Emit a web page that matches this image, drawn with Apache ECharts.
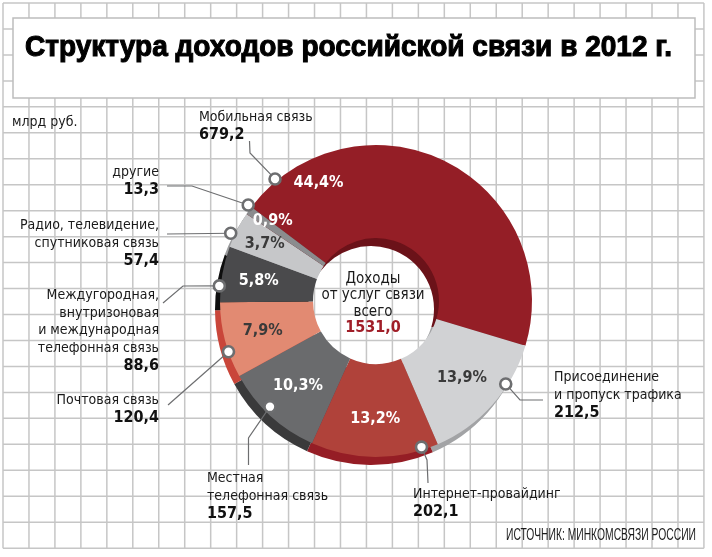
<!DOCTYPE html>
<html>
<head>
<meta charset="utf-8">
<title>Структура доходов российской связи в 2012 г.</title>
<script src="https://cdn.jsdelivr.net/npm/echarts@6/dist/echarts.min.js"></script>
<style>
    html, body { margin: 0; padding: 0; background: #fff; }
    #chart { width: 712px; height: 557px; }
</style>
</head>
<body>
<div id="chart"></div>
<script>
// данные: млрд руб., 2012 г.
var categories = [
    'Мобильная связь',
    'Присоединение\nи пропуск трафика',
    'Интернет-провайдинг',
    'Местная\nтелефонная связь',
    'Почтовая связь',
    'Междугородная,\nвнутризоновая\nи международная\nтелефонная связь',
    'Радио, телевидение,\nспутниковая связь',
    'другие'
];
var values = [679.2, 212.5, 202.1, 157.5, 120.4, 88.6, 57.4, 13.3];
var unitLabel = 'млрд руб.';
var titleText = 'Структура доходов российской связи в 2012 г.';
var centerLines = ['Доходы', 'от услуг связи', 'всего'];
var sourceText = 'ИСТОЧНИК: МИНКОМСВЯЗИ РОССИИ';

(function () {
    var myChart = echarts.init(document.getElementById('chart'));

    var COND = '"DejaVu Sans Condensed", "DejaVu Sans", sans-serif';
    var SANS = '"Liberation Sans", Arial, sans-serif';

    // ширина текста, чтобы "сжать" заголовок и источник до нужной ширины
    var ctx = document.createElement('canvas').getContext('2d');
    function textWidth(t, font) { ctx.font = font; return ctx.measureText(t).width; }

    // центр и радиусы кольца
    var CX = 376, CY = 301, R0 = 63, R1 = 156;
    var START = 143;

    var mainColors = ['#941e26', '#d1d2d4', '#b0423a', '#6a6b6d', '#e28a72', '#4a4a4c', '#c6c7c9', '#8b8c8e'];
    var wallColors = ['#6b1219', '#a2a3a5', '#951d25', '#3a3a3b', '#c9463a', '#0e0e0e', '#9c9d9f', '#5e5f61'];
    var pctColors = ['#fff', '#3a3a3a', '#fff', '#fff', '#3a3a3a', '#fff', '#3a3a3a', '#fff'];

    var total = values.reduce(function (s, v) { return s + v; }, 0);
    function fmt(v) { return v.toFixed(1).replace('.', ','); }

    // средние углы секторов
    var midAngles = [];
    var cum = 0;
    values.forEach(function (v) {
        midAngles.push(START - 360 * (cum + v / 2) / total);
        cum += v;
    });

    function polar(a, r) {
        var t = a * Math.PI / 180;
        return [CX + r * Math.cos(t), CY - r * Math.sin(t)];
    }

    // положение процентов (угол переопределён у мобильной связи и "других")
    var pctAngle = midAngles.slice();
    pctAngle[0] = 116;
    pctAngle[7] = 142;
    var pctRadius = [131, 115, 118, 115, 117, 119, 125, 131];

    // выноски: точка на кольце, ломаная, блок подписи
    var notes = [
        { dot: [129.6, 158.4], path: [[250, 153], [249.5, 141]], text: [199, 109, 'left'] },
        { dot: [-32.6, 154], path: [[520, 400], [543, 400]], text: [554, 369, 'left'] },
        { dot: [-72.7, 153], path: [[427, 460], [428, 483]], text: [413, 486, 'left'] },
        { dot: [224.9, 149.7], path: [[248.5, 438], [248.5, 465]], text: [207, 470, 'left'] },
        { dot: [199, 156], path: [[168, 405]], text: [159, 392, 'right'] },
        { dot: [174.5, 157.4], path: [[183, 286], [163, 303]], text: [159, 287, 'right'] },
        { dot: [155, 160.3], path: [[167, 234]], text: [159, 217, 'right'] },
        { dot: [143.1, 159.8], path: [[192, 186], [167, 186]], text: [159, 164, 'right'] }
    ];

    var elements = [];

    // клетчатый фон
    var step = 25.96;
    for (var i = 0; i <= 27; i++) {
        var gx = 3 + i * step;
        elements.push({ type: 'line', z: 0, silent: true,
            shape: { x1: gx, y1: 3, x2: gx, y2: 3 + 21 * step },
            style: { stroke: '#c6c6c6', lineWidth: 1.5 } });
    }
    for (var j = 0; j <= 21; j++) {
        var gy = 3 + j * step;
        elements.push({ type: 'line', z: 0, silent: true,
            shape: { x1: 3, y1: gy, x2: 3 + 27 * step, y2: gy },
            style: { stroke: '#c6c6c6', lineWidth: 1.5 } });
    }

    // плашка заголовка
    elements.push({ type: 'rect', z: 1, silent: true,
        shape: { x: 13, y: 18, width: 682, height: 80 },
        style: { fill: '#fff', stroke: '#bdbdbd', lineWidth: 1.5 } });
    var titleFont = 'bold 30px ' + SANS;
    elements.push({ type: 'text', z: 2, x: 25, y: 48,
        scaleX: 647 / textWidth(titleText, titleFont),
        style: { text: titleText, font: titleFont, fill: '#000',
            stroke: '#000', lineWidth: 1.1,
            align: 'left', verticalAlign: 'middle' } });

    elements.push({ type: 'text', z: 2, x: 12, y: 122,
        style: { text: unitLabel, font: '14px ' + COND, fill: '#1a1a1a',
            align: 'left', verticalAlign: 'middle' } });

    var srcFont = '16px ' + SANS;
    elements.push({ type: 'text', z: 2, x: 696, y: 536,
        scaleX: 190 / textWidth(sourceText, srcFont),
        style: { text: sourceText, font: srcFont, fill: '#1a1a1a',
            align: 'right', verticalAlign: 'middle' } });

    // текст в центре кольца
    elements.push({ type: 'text', z: 20, x: 373, y: 303.5,
        style: {
            text: centerLines.join('\n') + '\n{t|' + fmt(total) + '}',
            font: '15px ' + COND, fill: '#1a1a1a', lineHeight: 16.5,
            align: 'center', verticalAlign: 'middle',
            rich: { t: { font: 'bold 16px ' + COND, fill: '#a01e28', lineHeight: 16.5 } }
        } });

    // выноски
    notes.forEach(function (n, k) {
        var p = polar(n.dot[0], n.dot[1]);
        elements.push({ type: 'polyline', z: 18, silent: true,
            shape: { points: [p].concat(n.path) },
            style: { stroke: '#6d6e70', lineWidth: 1.2, fill: null } });
        elements.push({ type: 'circle', z: 19, silent: true,
            shape: { cx: p[0], cy: p[1], r: 5.5 },
            style: { fill: '#fff', stroke: '#6d6e70', lineWidth: 2.6 } });
        elements.push({ type: 'text', z: 19, x: n.text[0], y: n.text[1],
            style: {
                text: categories[k] + '\n{v|' + fmt(values[k]) + '}',
                font: '14px ' + COND, fill: '#1a1a1a', lineHeight: 17.5,
                align: n.text[2], verticalAlign: 'top',
                rich: { v: { font: 'bold 16px ' + COND, fill: '#111', lineHeight: 17 } }
            } });
    });

    function pieData(colors, withLabel) {
        return values.map(function (v, k) {
            var d = { value: v, name: categories[k], itemStyle: { color: colors[k] } };
            if (withLabel) d.label = { color: pctColors[k] };
            return d;
        });
    }

    var option = {
        animation: false,
        graphic: { elements: elements },
        series: [
            {
                // "толщина" кольца, сдвинутая влево-вниз
                name: 'wall',
                type: 'pie',
                z: 2,
                silent: true,
                center: [CX - 5, CY + 8],
                radius: [R0, R1],
                startAngle: START,
                label: { show: false },
                labelLine: { show: false },
                data: pieData(wallColors, false)
            },
            {
                name: 'Доходы',
                type: 'pie',
                z: 3,
                silent: true,
                center: [CX, CY],
                radius: [R0, R1],
                startAngle: START,
                avoidLabelOverlap: false,
                label: {
                    show: true,
                    position: 'inside',
                    fontFamily: COND,
                    fontWeight: 'bold',
                    fontSize: 16,
                    formatter: function (p) {
                        return fmt(p.value / total * 100) + '%';
                    }
                },
                labelLine: { show: false },
                labelLayout: function (p) {
                    var pt = polar(pctAngle[p.dataIndex], pctRadius[p.dataIndex]);
                    return { x: pt[0], y: pt[1], align: 'center', verticalAlign: 'middle' };
                },
                data: pieData(mainColors, true)
            }
        ]
    };

    myChart.setOption(option);

    window.addEventListener('resize', function () {
        myChart.resize();
    });
})();
</script>
</body>
</html>
